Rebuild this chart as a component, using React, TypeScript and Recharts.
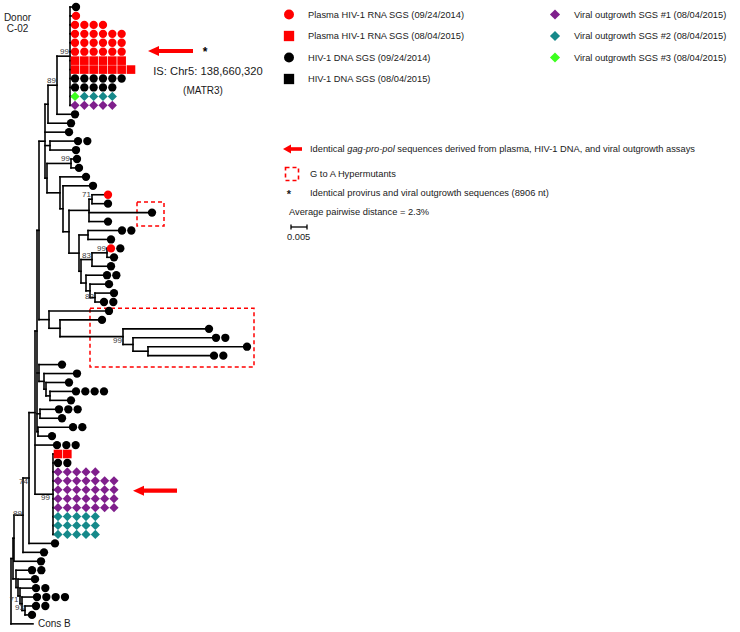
import React from 'react';
import {
  ScatterChart, Scatter, XAxis, YAxis, ReferenceLine, ReferenceArea, ReferenceDot, Customized,
} from 'recharts';

const FONT = '"Liberation Sans", Arial, Helvetica, sans-serif';
const W = 740;
const H = 632;
const X_DOMAIN: [number, number] = [0, 740];
const ROW_DOMAIN: [number, number] = [-0.783, 69.91];
const MARK_STEP = 9.33;

// marks: r = plasma RNA 2014 (red circle), R = plasma RNA 2015 (red square),
// k = DNA 2014 (black circle), p/t/g = viral outgrowth #1/#2/#3 (diamonds)
const leaves = [
  { row: 0, tip: 76, marks: 'k' },
  { row: 1, tip: 76, marks: 'r' },
  { row: 2, tip: 75, marks: 'rrrr' },
  { row: 3, tip: 75, marks: 'rrrrrr' },
  { row: 4, tip: 75, marks: 'rrrrrr' },
  { row: 5, tip: 75, marks: 'rrrrrr' },
  { row: 6, tip: 75, marks: 'RRRRRR' },
  { row: 7, tip: 75, marks: 'RRRRRRR' },
  { row: 8, tip: 75, marks: 'kkkkkk' },
  { row: 9, tip: 75, marks: 'kkkkk' },
  { row: 10, tip: 75, marks: 'gtttt' },
  { row: 11, tip: 75, marks: 'ppppp' },
  { row: 12, tip: 75, marks: 'k' },
  { row: 13, tip: 71, marks: 'k' },
  { row: 14, tip: 69, marks: 'k' },
  { row: 15, tip: 78, marks: 'kk' },
  { row: 16, tip: 76, marks: 'k' },
  { row: 17, tip: 77, marks: 'k' },
  { row: 18, tip: 79, marks: 'k' },
  { row: 19, tip: 86, marks: 'k' },
  { row: 20, tip: 93, marks: 'k' },
  { row: 21, tip: 108, marks: 'r' },
  { row: 22, tip: 108, marks: 'k' },
  { row: 23, tip: 152, marks: 'k' },
  { row: 24, tip: 108, marks: 'k' },
  { row: 25, tip: 122, marks: 'kk' },
  { row: 26, tip: 111, marks: 'k' },
  { row: 27, tip: 111, marks: 'rk' },
  { row: 28, tip: 114, marks: 'k' },
  { row: 29, tip: 111, marks: 'k' },
  { row: 30, tip: 107, marks: 'kk' },
  { row: 31, tip: 109, marks: 'k' },
  { row: 32, tip: 114, marks: 'k' },
  { row: 33, tip: 104, marks: 'kk' },
  { row: 34, tip: 109, marks: 'k' },
  { row: 35, tip: 102, marks: 'k' },
  { row: 36, tip: 209, marks: 'k' },
  { row: 37, tip: 216, marks: 'kk' },
  { row: 38, tip: 247, marks: 'k' },
  { row: 39, tip: 214, marks: 'kk' },
  { row: 40, tip: 62, marks: 'k' },
  { row: 41, tip: 77, marks: 'k' },
  { row: 42, tip: 69, marks: 'k' },
  { row: 43, tip: 76, marks: 'kkkk' },
  { row: 44, tip: 71, marks: 'k' },
  { row: 45, tip: 59, marks: 'kkk' },
  { row: 46, tip: 62, marks: 'k' },
  { row: 47, tip: 73, marks: 'kk' },
  { row: 48, tip: 52, marks: 'k' },
  { row: 49, tip: 57, marks: 'kkk' },
  { row: 50, tip: 58, marks: 'RR' },
  { row: 51, tip: 58, marks: 'kk' },
  { row: 52, tip: 58, marks: 'ppppp' },
  { row: 53, tip: 58, marks: 'ppppppp' },
  { row: 54, tip: 58, marks: 'ppppppp' },
  { row: 55, tip: 58, marks: 'ppppppp' },
  { row: 56, tip: 58, marks: 'ppppppp' },
  { row: 57, tip: 58, marks: 'ttttt' },
  { row: 58, tip: 58, marks: 'ttttt' },
  { row: 59, tip: 58, marks: 'ttttt' },
  { row: 60, tip: 55, marks: 'k' },
  { row: 61, tip: 44, marks: 'k' },
  { row: 62, tip: 41, marks: 'k' },
  { row: 63, tip: 32, marks: 'kk' },
  { row: 64, tip: 35, marks: 'k' },
  { row: 65, tip: 36, marks: 'kk' },
  { row: 66, tip: 37, marks: 'kkkk' },
  { row: 67, tip: 36, marks: 'kk' },
  { row: 68, tip: 32, marks: 'k' },
  { row: 69, tip: 33, marks: '' },
];

const leafNames: Record<number, string> = { 69: 'Cons B' };

type TNode = { id: string; x: number; kids: (number | string)[]; label?: string; ldx?: number; ldy?: number };
const nodes: TNode[] = [
  { id: 'top', x: 70, kids: [0, 1, 2, 3, 4, 5, 6, 7, 8, 9, 10, 11], label: '99' },
  { id: 'A', x: 57, kids: ['top', 12], label: '89' },
  { id: 'B', x: 48, kids: ['A', 13] },
  { id: 'N1516', x: 50, kids: [15, 16] },
  { id: 'N1718', x: 71, kids: [17, 18], label: '99' },
  { id: 'C1', x: 60, kids: [19, 'C2'] },
  { id: 'C2', x: 63, kids: [20, 'C3'] },
  { id: 'C3', x: 69, kids: ['D', 'E'] },
  { id: 'D', x: 89, kids: ['D1', 23, 24] },
  { id: 'D1', x: 92, kids: [21, 22], label: '71' },
  { id: 'E', x: 79, kids: ['E1', 'E2'] },
  { id: 'E1', x: 88, kids: [25, 26] },
  { id: 'E2', x: 81, kids: ['E2a', 'E3'] },
  { id: 'E2a', x: 92, kids: ['N99c', 29], label: '83' },
  { id: 'N99c', x: 107, kids: [27, 28], label: '99' },
  { id: 'E3', x: 86, kids: [30, 'E4'] },
  { id: 'E4', x: 90, kids: [31, 'E5'] },
  { id: 'E5', x: 95, kids: [32, 33], label: '82', ldy: 3 },
  { id: 'G2', x: 47, kids: ['N1718', 'C1'] },
  { id: 'G1', x: 45, kids: ['B', 14, 'N1516', 'G2'] },
  { id: 'F', x: 49, kids: [34, 'F1'] },
  { id: 'F1', x: 60, kids: [35, 'F2'] },
  { id: 'F2', x: 123, kids: [36, 'F3'], label: '99', ldy: 8 },
  { id: 'F3', x: 133, kids: [37, 'F4'] },
  { id: 'F4', x: 148, kids: [38, 39] },
  { id: 'G0', x: 39, kids: ['G1', 'F'] },
  { id: 'H1', x: 39, kids: [40, 'H2'] },
  { id: 'H2', x: 44, kids: [41, 'H3'] },
  { id: 'H3', x: 46, kids: [42, 'H4'] },
  { id: 'H4', x: 50, kids: [43, 44] },
  { id: 'H5', x: 40, kids: [45, 46] },
  { id: 'H6', x: 38, kids: [47, 48] },
  { id: 'H', x: 37, kids: ['G0', 'H1', 'H5', 'H6'] },
  { id: 'V99', x: 53, kids: [50, 51, 52, 53, 54, 55, 56, 57, 58, 59], label: '99', ldx: -2, ldy: 8 },
  { id: 'N35', x: 35, kids: ['H', 49, 'V99'] },
  { id: 'N74', x: 29, kids: ['N35', 60], label: '74', ldy: 8 },
  { id: 'N89', x: 23, kids: ['N74', 61], label: '89', ldy: 3 },
  { id: 'A2', x: 14, kids: ['N89', 62] },
  { id: 'B4', x: 25, kids: [67, 68], label: '93', ldx: 0, ldy: 2 },
  { id: 'B3', x: 22, kids: [66, 'B4'], label: '71', ldx: -2.5, ldy: 0.5 },
  { id: 'B2', x: 20, kids: [65, 'B3'] },
  { id: 'B1', x: 18, kids: [64, 'B2'] },
  { id: 'B0', x: 16, kids: [63, 'B1'] },
  { id: 'A1', x: 13, kids: ['A2', 'B0'] },
  { id: 'root', x: 11, kids: ['A1', 69] },
];

// ---- derived layout ----
const nodeById: Record<string, TNode> = {};
nodes.forEach((n) => { nodeById[n.id] = n; });
const leafByRow: Record<number, (typeof leaves)[number]> = {};
leaves.forEach((l) => { leafByRow[l.row] = l; });

const yCache: Record<string, number> = {};
function yOf(k: number | string): number {
  if (typeof k === 'number') return k;
  if (yCache[k] !== undefined) return yCache[k];
  const n = nodeById[k];
  const v = (yOf(n.kids[0]) + yOf(n.kids[n.kids.length - 1])) / 2;
  yCache[k] = v;
  return v;
}

type Seg = { x1: number; y1: number; x2: number; y2: number };
const segments: Seg[] = [];
nodes.forEach((n) => {
  const ys = n.kids.map(yOf);
  segments.push({ x1: n.x, y1: ys[0], x2: n.x, y2: ys[ys.length - 1] });
  n.kids.forEach((k, i) => {
    let xEnd: number;
    if (typeof k === 'number') {
      const lf = leafByRow[k];
      xEnd = lf.marks.length ? lf.tip - 3.8 : lf.tip;
    } else {
      xEnd = nodeById[k].x;
    }
    if (xEnd > n.x) segments.push({ x1: n.x, y1: ys[i], x2: xEnd, y2: ys[i] });
  });
});

const markPoints = leaves.flatMap((l) =>
  l.marks.split('').map((m, i) => ({ x: l.tip + i * MARK_STEP, y: l.row, m })),
);

const COLORS: Record<string, string> = {
  r: '#ff0000', R: '#ff0000', k: '#000000', K: '#000000',
  p: '#7f1f8c', t: '#16898a', g: '#3cff1e',
};

function drawMark(m: string, cx: number, cy: number, s = 1, key?: string) {
  const c = COLORS[m];
  if (m === 'r' || m === 'k') return <circle key={key} cx={cx} cy={cy} r={4.15 * s} fill={c} />;
  if (m === 'R' || m === 'K') {
    const h = 4.3 * s;
    return <rect key={key} x={cx - h} y={cy - h} width={2 * h} height={2 * h} fill={c} />;
  }
  const d = 4.6 * s;
  return <polygon key={key} points={`${cx},${cy - d} ${cx + d},${cy} ${cx},${cy + d} ${cx - d},${cy}`} fill={c} />;
}

const MarkShape = (p: any) => {
  const { cx, cy, payload } = p;
  if (cx == null || cy == null) return <g />;
  return drawMark(payload.m, cx, cy);
};

// ---- annotations ----
const arrows = [
  { xTip: 148, xEnd: 193, row: 4.92 },
  { xTip: 133, xEnd: 177, row: 54.1 },
];
const hyperBoxes = [
  { x1: 137, x2: 164, r1: 21.8, r2: 24.5 },
  { x1: 90, x2: 254, r1: 33.7, r2: 40.27 },
];

const legendLeft = [
  { m: 'r', text: 'Plasma HIV-1 RNA SGS (09/24/2014)' },
  { m: 'R', text: 'Plasma HIV-1 RNA SGS (08/04/2015)' },
  { m: 'k', text: 'HIV-1 DNA SGS (09/24/2014)' },
  { m: 'K', text: 'HIV-1 DNA SGS (08/04/2015)' },
];
const legendRight = [
  { m: 'p', text: 'Viral outgrowth SGS #1 (08/04/2015)' },
  { m: 't', text: 'Viral outgrowth SGS #2 (08/04/2015)' },
  { m: 'g', text: 'Viral outgrowth SGS #3 (08/04/2015)' },
];
const legendRowsY = [14.5, 36, 57.5, 79];
const LFS = 9.3;

const Overlay = () => (
  <g fontFamily={FONT} fill="#1a1a1a">
    <text x={17.5} y={20.5} fontSize={10} textAnchor="middle">Donor</text>
    <text x={17.5} y={31.5} fontSize={10} textAnchor="middle">C-02</text>
    {legendLeft.map((l, i) => (
      <g key={'ll' + i}>
        {drawMark(l.m, 289, legendRowsY[i], 1.2)}
        <text x={308} y={legendRowsY[i] + 3.4} fontSize={LFS}>{l.text}</text>
      </g>
    ))}
    {legendRight.map((l, i) => (
      <g key={'lr' + i}>
        {drawMark(l.m, 555, legendRowsY[i], 1.1)}
        <text x={574} y={legendRowsY[i] + 3.4} fontSize={LFS}>{l.text}</text>
      </g>
    ))}
    <polygon points="283,149 291,144.5 291,153.5" fill="#ff0000" />
    <rect x={290} y={147.2} width={12} height={3.6} fill="#ff0000" />
    <text x={310} y={152.4} fontSize={LFS}>
      Identical <tspan fontStyle="italic">gag-pro-pol</tspan> sequences derived from plasma, HIV-1 DNA, and viral outgrowth assays
    </text>
    <rect x={285.5} y={167.5} width={13} height={13} fill="none" stroke="#ff0000" strokeWidth={1.6} strokeDasharray="4 3" />
    <text x={310} y={177.4} fontSize={LFS}>G to A Hypermutants</text>
    <text x={289} y={198} fontSize={11} fontWeight="bold" textAnchor="middle">*</text>
    <text x={310} y={196.4} fontSize={LFS}>Identical provirus and viral outgrowth sequences (8906 nt)</text>
    <text x={289} y={215.4} fontSize={LFS}>Average pairwise distance = 2.3%</text>
    <g stroke="#000" strokeWidth={1.3}>
      <line x1={291} y1={227} x2={307} y2={227} />
      <line x1={291} y1={224.5} x2={291} y2={229.5} />
      <line x1={307} y1={224.5} x2={307} y2={229.5} />
    </g>
    <text x={287} y={239.5} fontSize={LFS}>0.005</text>
  </g>
);

export default function App() {
  return (
    <div style={{ position: 'absolute', left: 0, top: 0, width: W, height: H, background: '#fff' }}>
      <ScatterChart width={W} height={H} margin={{ top: 0, right: 0, bottom: 0, left: 0 }}>
        <XAxis type="number" dataKey="x" domain={X_DOMAIN} hide allowDataOverflow />
        <YAxis type="number" dataKey="y" domain={ROW_DOMAIN} reversed hide allowDataOverflow />
        {hyperBoxes.map((b, i) => (
          <ReferenceArea key={'hb' + i} x1={b.x1} x2={b.x2} y1={b.r1} y2={b.r2}
            fill="none" fillOpacity={0} stroke="#ff0000" strokeWidth={1.5} strokeDasharray="4 3" ifOverflow="visible" />
        ))}
        {segments.map((s, i) => (
          <ReferenceLine key={'s' + i} segment={[{ x: s.x1, y: s.y1 }, { x: s.x2, y: s.y2 }]}
            stroke="#000" strokeWidth={1.6} strokeLinecap="square" ifOverflow="visible" />
        ))}
        {nodes.filter((n) => n.label).map((n) => (
          <ReferenceDot key={'lb' + n.id} x={n.x} y={yOf(n.id)} r={0} ifOverflow="visible"
            shape={(p: any) => (
              <text x={p.cx - 1 + (n.ldx || 0)} y={p.cy - 2 + (n.ldy || 0)} fontSize={8} fill="#3a3a3a"
                fontFamily={FONT} textAnchor="end">{n.label}</text>
            )} />
        ))}
        {leaves.filter((l) => leafNames[l.row]).map((l) => (
          <ReferenceDot key={'ln' + l.row} x={l.tip} y={l.row} r={0} ifOverflow="visible"
            shape={(p: any) => (
              <text x={p.cx + 5} y={p.cy + 3.5} fontSize={10} fill="#1a1a1a" fontFamily={FONT}>{leafNames[l.row]}</text>
            )} />
        ))}
        {arrows.map((a, i) => (
          <ReferenceLine key={'as' + i} segment={[{ x: a.xTip + 10, y: a.row }, { x: a.xEnd, y: a.row }]}
            stroke="#ff0000" strokeWidth={4.2} ifOverflow="visible" />
        ))}
        {arrows.map((a, i) => (
          <ReferenceDot key={'ah' + i} x={a.xTip} y={a.row} r={0} ifOverflow="visible"
            shape={(p: any) => (
              <polygon points={`${p.cx},${p.cy} ${p.cx + 11},${p.cy - 5} ${p.cx + 11},${p.cy + 5}`} fill="#ff0000" />
            )} />
        ))}
        <ReferenceDot x={205} y={4.92} r={0} ifOverflow="visible"
          shape={(p: any) => (
            <text x={p.cx} y={p.cy + 5.5} fontSize={12} fontWeight="bold" textAnchor="middle" fontFamily={FONT}>*</text>
          )} />
        <ReferenceDot x={208} y={7.16} r={0} ifOverflow="visible"
          shape={(p: any) => (
            <text x={p.cx} y={p.cy + 3.8} fontSize={11.2} textAnchor="middle" fill="#1a1a1a" fontFamily={FONT}>IS: Chr5: 138,660,320</text>
          )} />
        <ReferenceDot x={203} y={9.28} r={0} ifOverflow="visible"
          shape={(p: any) => (
            <text x={p.cx} y={p.cy + 3.6} fontSize={10} textAnchor="middle" fill="#1a1a1a" fontFamily={FONT}>(MATR3)</text>
          )} />
        <Scatter data={markPoints} shape={MarkShape} isAnimationActive={false} />
        <Customized component={Overlay} />
      </ScatterChart>
    </div>
  );
}
